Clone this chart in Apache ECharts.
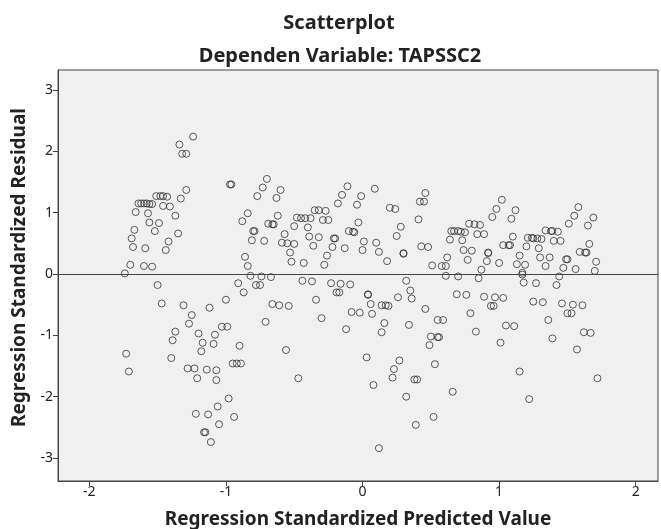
<!DOCTYPE html>
<html>
<head>
<meta charset="utf-8">
<script src="https://cdn.jsdelivr.net/npm/echarts@6/dist/echarts.min.js"></script>
<style>
  html, body { margin: 0; padding: 0; background: #fff; }
  #chart { width: 661px; height: 529px; }
</style>
</head>
<body>
<div id="chart"></div>
<script>
// values
const predictedValues = [
  -1.24, -1.34, -1.32, -1.29, -1.29, -1.33, -1.51, -1.48, -1.46, -1.43,
  -1.64, -1.62, -1.60, -1.58, -1.56, -1.54, -1.46, -1.41, -1.66, -1.57,
  -1.37, -1.56, -1.49, -1.52, -1.67, -1.69, -1.35, -1.42, -1.68, -1.59,
  -1.44, -1.70, -1.60, -1.54, -1.74, -1.50, -1.47, -1.31, -1.12, -1.25,
  -1.27, -1.37, -1.39, -1.20, -1.08, -1.17, -1.09, -1.18, -1.73, -1.71,
  -1.40, -1.28, -1.23, -1.21, -1.14, -1.07, -1.07, -1.22, -1.13, -1.06,
  -1.16, -1.15, -1.11, -1.05,
  -0.70, -0.73, -0.77, -0.60, -0.63, -0.97, -0.96, -0.84, -0.88, -0.80,
  -0.79, -0.81, -0.72, -0.69, -0.66, -0.65, -0.62, -0.57, -0.59, -0.55,
  -0.50, -0.53, -0.52, -0.43, -0.50, -0.48, -0.45, -0.42, -0.38, -0.35,
  -0.40, -0.39, -0.36, -0.86, -0.84, -0.82, -0.74, -0.67, -0.91, -0.78,
  -0.75, -0.87, -1.00, -0.44, -0.37, -0.66, -0.61, -0.54, -0.34, -0.71,
  -1.03, -0.99, -0.90, -0.56, -0.95, -0.92, -0.89, -0.47, -0.98, -0.94,
  -0.11, -0.15, -0.18, -0.01, -0.04, 0.09, -0.32, -0.27, -0.29, -0.25,
  -0.32, -0.21, -0.20, -0.22, -0.13, -0.10, -0.07, -0.06, -0.03, 0.01,
  0.00, 0.10, 0.12, -0.26, -0.28, 0.18, 0.20, 0.24, 0.28, 0.25,
  0.30, 0.30, -0.23, -0.16, -0.09, -0.19, -0.17, 0.04, 0.04, 0.26,
  0.32, 0.35, 0.06, 0.14, 0.17, 0.19, -0.08, -0.02, 0.07, -0.30,
  -0.12, 0.16, 0.14, 0.34, 0.03, 0.27, 0.23, 0.22, 0.08, 0.32,
  0.12,
  0.46, 0.42, 0.45, 0.41, 0.43, 0.48, 0.51, 0.58, 0.61, 0.62,
  0.61, 0.70, 0.64, 0.65, 0.67, 0.70, 0.72, 0.75, 0.73, 0.74,
  0.77, 0.80, 0.78, 0.82, 0.86, 0.84, 0.89, 0.92, 0.92, 0.91,
  0.87, 0.85, 0.95, 0.98, 1.02, 1.00, 1.03, 0.36, 0.69, 0.76,
  0.89, 0.97, 1.03, 0.94, 0.96, 0.46, 0.55, 0.59, 0.79, 0.50,
  0.55, 0.56, 0.49, 0.83, 1.05, 1.01, 0.53, 0.38, 0.40, 0.66,
  0.52, 0.39,
  1.12, 1.09, 1.10, 1.07, 1.08, 1.15, 1.13, 1.19, 1.17, 1.17,
  1.18, 1.27, 1.20, 1.21, 1.24, 1.25, 1.28, 1.31, 1.29, 1.30,
  1.37, 1.34, 1.34, 1.38, 1.39, 1.43, 1.40, 1.45, 1.51, 1.55,
  1.58, 1.69, 1.65, 1.49, 1.50, 1.47, 1.44, 1.42, 1.56, 1.59,
  1.63, 1.64, 1.66, 1.71, 1.70, 1.25, 1.32, 1.46, 1.54, 1.61,
  1.50, 1.53, 1.36, 1.11, 1.39, 1.62, 1.67, 1.57, 1.15, 1.22,
  1.72
];
const residualValues = [
  2.24, 2.11, 1.96, 1.96, 1.37, 1.23, 1.27, 1.27, 1.27, 1.26,
  1.15, 1.15, 1.15, 1.15, 1.14, 1.14, 1.11, 1.10, 1.01, 0.99,
  0.95, 0.84, 0.83, 0.70, 0.72, 0.58, 0.66, 0.53, 0.44, 0.42,
  0.39, 0.15, 0.13, 0.12, 0.01, -0.18, -0.48, -0.51, -0.55, -0.67,
  -0.81, -0.94, -1.08, -0.97, -0.99, -1.12, -1.14, -1.26, -1.30, -1.59,
  -1.37, -1.54, -1.54, -1.70, -1.56, -1.57, -1.73, -2.28, -2.29, -2.16,
  -2.58, -2.58, -2.74, -2.45,
  1.55, 1.41, 1.27, 1.37, 1.24, 1.46, 1.46, 0.99, 0.86, 0.70,
  0.70, 0.55, 0.54, 0.82, 0.81, 0.81, 0.95, 0.65, 0.51, 0.50,
  0.49, 0.35, 0.20, 0.18, 0.78, 0.92, 0.91, 0.91, 0.91, 1.04,
  0.76, 0.61, 0.46, 0.28, 0.13, -0.03, -0.04, -0.05, -0.15, -0.18,
  -0.18, -0.30, -0.42, -0.11, -0.12, -0.49, -0.51, -0.52, -0.42, -0.78,
  -0.86, -0.86, -1.17, -1.24, -1.46, -1.46, -1.46, -1.70, -2.03, -2.33,
  1.43, 1.29, 1.15, 1.27, 1.13, 1.39, 1.04, 1.03, 0.88, 0.88,
  0.60, 0.58, 0.58, 0.44, 0.42, 0.70, 0.69, 0.68, 0.84, 0.53,
  0.39, 0.51, 0.36, 0.30, 0.15, 0.21, 1.08, 1.06, 0.77, 0.62,
  0.33, 0.34, -0.15, -0.16, -0.17, -0.30, -0.30, -0.34, -0.33, -0.38,
  -0.11, -0.27, -0.49, -0.51, -0.51, -0.52, -0.62, -0.63, -0.65, -0.72,
  -0.90, -0.80, -0.95, -0.83, -1.36, -1.41, -1.55, -1.69, -1.81, -2.00,
  -2.84,
  1.32, 1.18, 1.18, 0.89, 0.45, 0.44, 0.14, 0.13, 0.13, 0.27,
  -0.03, -0.04, 0.56, 0.70, 0.70, 0.70, 0.69, 0.68, 0.55, 0.39,
  0.23, 0.38, 0.82, 0.81, 0.80, 0.65, 0.65, 0.35, 0.34, 0.21,
  0.07, -0.07, 0.93, 1.06, 1.21, 0.18, 0.47, -0.40, -0.33, -0.34,
  -0.37, -0.38, -0.39, -0.52, -0.52, -0.57, -0.75, -0.75, -0.64, -1.02,
  -1.03, -1.03, -1.16, -0.94, -0.84, -1.12, -1.47, -1.72, -1.72, -1.92,
  -2.33, -2.46,
  1.04, 0.90, 0.61, 0.47, 0.47, 0.30, 0.16, 0.15, 0.02, -0.01,
  -0.14, -0.15, 0.45, 0.59, 0.59, 0.58, 0.58, 0.57, 0.42, 0.27,
  0.27, 0.13, 0.71, 0.70, 0.70, 0.69, 0.54, 0.54, 0.82, 0.95,
  1.09, 0.92, 0.79, 0.24, 0.24, 0.10, -0.04, -0.18, 0.08, 0.36,
  0.35, 0.35, 0.49, 0.20, 0.05, -0.45, -0.46, -0.48, -0.50, -0.51,
  -0.64, -0.64, -0.75, -0.85, -1.05, -0.95, -0.96, -1.23, -1.59, -2.04,
  -1.70
];

const xTicks = [-2, -1, 0, 1, 2];
const yTicks = [-3, -2, -1, 0, 1, 2, 3];

const chart = echarts.init(document.getElementById('chart'));

const points = predictedValues.map((x, i) => [x, residualValues[i]]);

const font = 'Noto Sans';

const option = {
  animation: false,
  title: [
    {
      text: 'Scatterplot',
      left: 334,
      textAlign: 'center',
      top: 8,
      textStyle: { fontFamily: font, fontWeight: 'bold', fontSize: 20, color: '#222' }
    },
    {
      text: 'Dependen Variable: TAPSSC2',
      left: 335,
      textAlign: 'center',
      top: 41,
      textStyle: { fontFamily: font, fontWeight: 'bold', fontSize: 20, color: '#222' }
    }
  ],
  grid: {
    left: 58,
    right: 3,
    top: 70,
    bottom: 48,
    outerBoundsMode: 'none',
    show: true,
    backgroundColor: '#f0f0f0',
    borderColor: '#444',
    borderWidth: 1
  },
  xAxis: {
    type: 'value',
    min: -2.229,
    max: 2.163,
    name: 'Regression Standardized Predicted Value',
    nameLocation: 'middle',
    nameGap: 29,
    nameTextStyle: { fontFamily: font, fontWeight: 'bold', fontSize: 19, color: '#222' },
    axisLine: { show: true, onZero: false, lineStyle: { color: '#444' } },
    axisTick: { show: true, length: 5, customValues: xTicks, lineStyle: { color: '#444' } },
    axisLabel: { customValues: xTicks, fontFamily: font, fontSize: 14, color: '#222', margin: 4 },
    splitLine: { show: false }
  },
  yAxis: {
    type: 'value',
    min: -3.375,
    max: 3.326,
    name: 'Regression Standardized Residual',
    nameLocation: 'middle',
    nameGap: 28,
    nameTextStyle: { fontFamily: font, fontWeight: 'bold', fontSize: 19, color: '#222', padding: [0, 0, 0, 16] },
    axisLine: { show: true, onZero: false, lineStyle: { color: '#444' } },
    axisTick: { show: true, length: 5, customValues: yTicks, lineStyle: { color: '#444' } },
    axisLabel: { customValues: yTicks, fontFamily: font, fontSize: 14, color: '#222', margin: 5 },
    splitLine: { show: false }
  },
  series: [
    {
      type: 'scatter',
      data: points,
      symbol: 'circle',
      symbolSize: 7,
      itemStyle: { color: 'rgba(0,0,0,0)', borderColor: '#333', borderWidth: 1 },
      markLine: {
        silent: true,
        symbol: 'none',
        label: { show: false },
        lineStyle: { color: '#444', type: 'solid', width: 1 },
        data: [{ yAxis: 0 }]
      }
    }
  ]
};

chart.setOption(option);
</script>
</body>
</html>
